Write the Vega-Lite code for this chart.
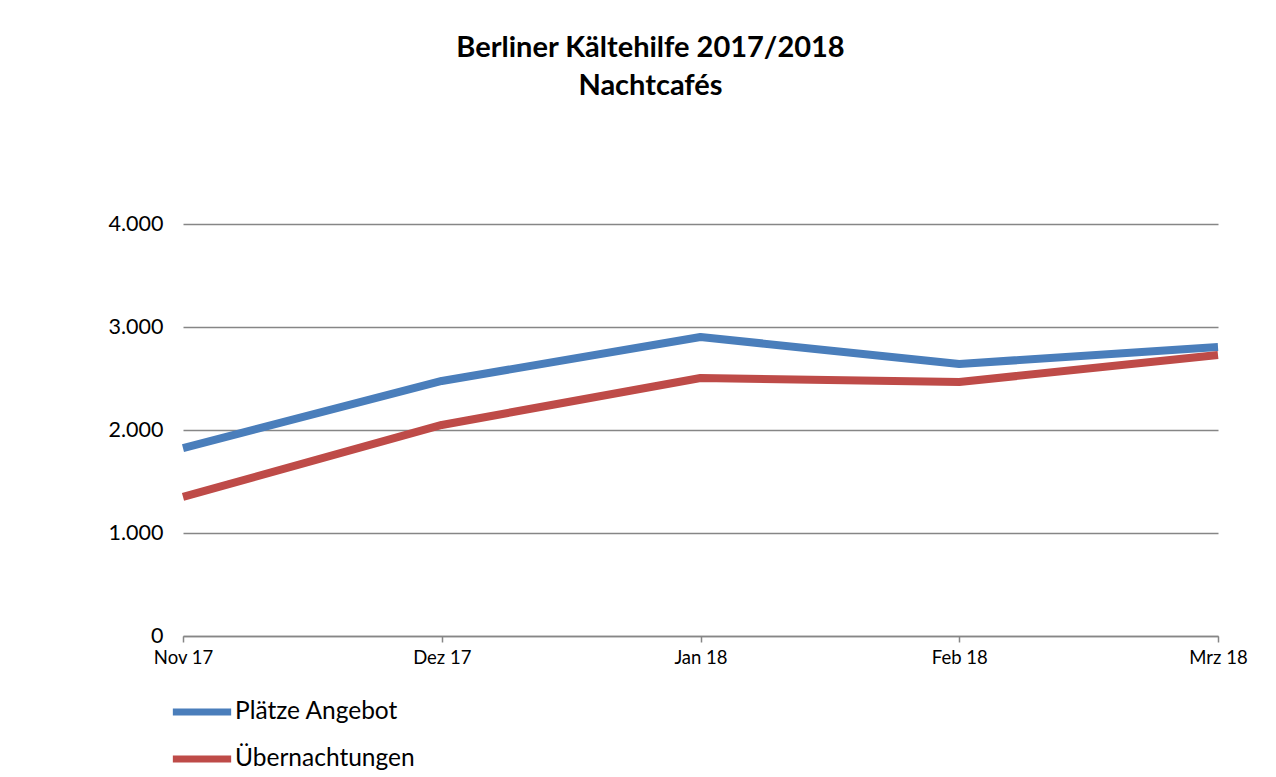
{
  "$schema": "https://vega.github.io/schema/vega-lite/v6.json",
  "autosize": "none",
  "width": 1035,
  "height": 412,
  "padding": {"left": 183, "top": 224, "right": 58, "bottom": 141},
  "background": "white",
  "title": {
    "text": ["Berliner Kältehilfe 2017/2018", "Nachtcafés"],
    "anchor": "middle",
    "dx": -50,
    "offset": 112,
    "font": "Lato",
    "fontSize": 29,
    "fontWeight": "bold",
    "lineHeight": 38,
    "color": "black"
  },
  "data": {
    "values": [
      {"monat": "Nov 17", "serie": "Plätze Angebot", "wert": 1825},
      {"monat": "Dez 17", "serie": "Plätze Angebot", "wert": 2476},
      {"monat": "Jan 18", "serie": "Plätze Angebot", "wert": 2903},
      {"monat": "Feb 18", "serie": "Plätze Angebot", "wert": 2641},
      {"monat": "Mrz 18", "serie": "Plätze Angebot", "wert": 2806},
      {"monat": "Nov 17", "serie": "Übernachtungen", "wert": 1350},
      {"monat": "Dez 17", "serie": "Übernachtungen", "wert": 2049},
      {"monat": "Jan 18", "serie": "Übernachtungen", "wert": 2505},
      {"monat": "Feb 18", "serie": "Übernachtungen", "wert": 2466},
      {"monat": "Mrz 18", "serie": "Übernachtungen", "wert": 2728}
    ]
  },
  "mark": {"type": "line", "strokeWidth": 8, "strokeCap": "butt", "strokeJoin": "round"},
  "encoding": {
    "x": {
      "field": "monat",
      "type": "ordinal",
      "sort": ["Nov 17", "Dez 17", "Jan 18", "Feb 18", "Mrz 18"],
      "scale": {"type": "point", "padding": 0},
      "axis": {
        "title": null,
        "labelAngle": 0,
        "labelFont": "Lato",
        "labelFontSize": 18.5,
        "labelColor": "black",
        "labelPadding": 6,
        "domainColor": "#868686",
        "domainWidth": 1.5,
        "tickColor": "#868686",
        "tickWidth": 1.5,
        "tickSize": 6,
        "grid": false
      }
    },
    "y": {
      "field": "wert",
      "type": "quantitative",
      "scale": {"domain": [0, 4000]},
      "axis": {
        "title": null,
        "values": [0, 1000, 2000, 3000, 4000],
        "labelExpr": "replace(format(datum.value, ','), ',', '.')",
        "labelFont": "Lato",
        "labelFontSize": 21.5,
        "labelColor": "black",
        "labelPadding": 20,
        "domain": false,
        "ticks": false,
        "grid": true,
        "gridColor": "#868686",
        "gridWidth": 1.5
      }
    },
    "color": {
      "field": "serie",
      "type": "nominal",
      "scale": {"domain": ["Plätze Angebot", "Übernachtungen"], "range": ["#4a7ebb", "#be4b48"]},
      "legend": {
        "title": null,
        "orient": "none",
        "legendX": -14,
        "legendY": 455,
        "direction": "vertical",
        "symbolType": "stroke",
        "symbolSize": 3400,
        "symbolStrokeWidth": 7,
        "labelFont": "Lato",
        "labelFontSize": 24.5,
        "labelColor": "black",
        "labelOffset": 0,
        "rowPadding": 0,
        "labelLimit": 400
      }
    }
  },
  "config": {"view": {"stroke": null}}
}
